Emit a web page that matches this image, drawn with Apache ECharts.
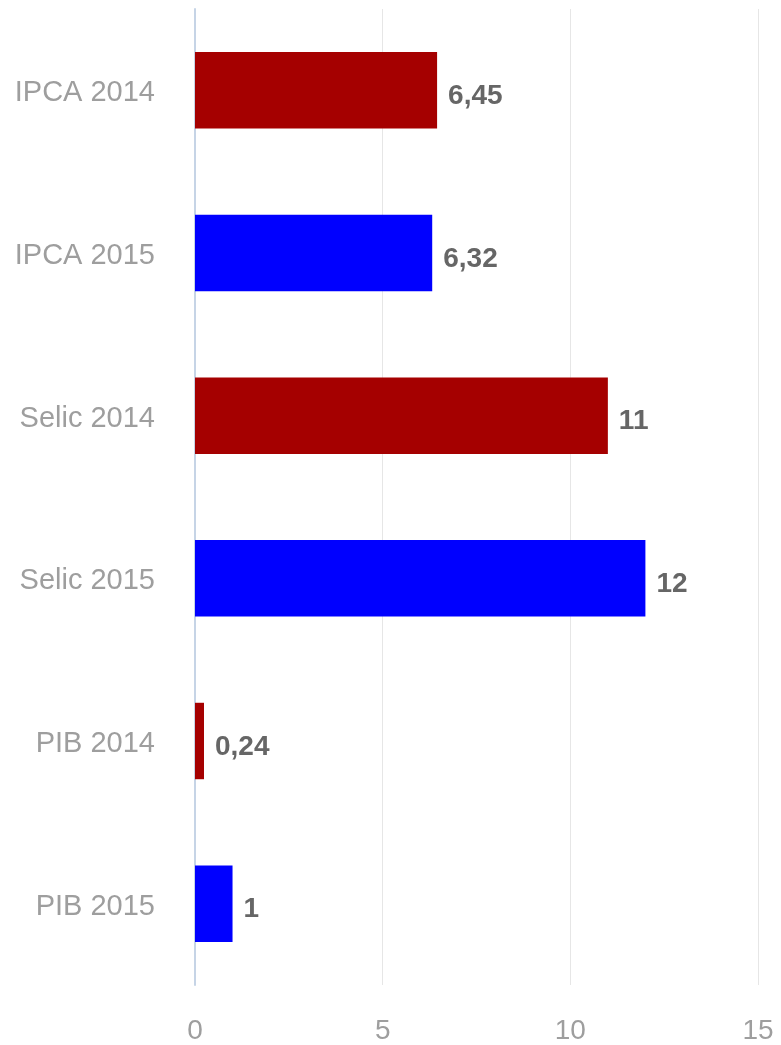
<!DOCTYPE html>
<html>
<head>
<meta charset="utf-8">
<script src="https://cdn.jsdelivr.net/npm/echarts@6/dist/echarts.min.js"></script>
<style>
  html, body { margin: 0; padding: 0; background: #ffffff; }
  #chart { width: 781px; height: 1045px; }
</style>
</head>
<body>
<div id="chart"></div>
<script>
// Indicator names, top to bottom
const categories = ['IPCA 2014', 'IPCA 2015', 'Selic 2014', 'Selic 2015', 'PIB 2014', 'PIB 2015'];
// Value of each indicator
const values = [6.45, 6.32, 11, 12, 0.24, 1];
// 2014 bars in dark red, 2015 bars in blue
const barColors = ['#a50000', '#0000ff', '#a50000', '#0000ff', '#a50000', '#0000ff'];
// Horizontal axis ticks
const xTicks = [0, 5, 10, 15];

const chart = echarts.init(document.getElementById('chart'), null, { renderer: 'canvas' });

const font = '"Liberation Sans", Arial, sans-serif';

chart.setOption({
  animation: false,
  backgroundColor: '#ffffff',
  grid: { left: 195, right: 23, top: 9, bottom: 60, containLabel: false },
  xAxis: {
    type: 'value',
    min: xTicks[0],
    max: xTicks[xTicks.length - 1],
    interval: xTicks[1] - xTicks[0],
    axisLine: { show: false },
    axisTick: { show: false },
    splitLine: { show: true, lineStyle: { color: '#e6e6e6', width: 1 } },
    axisLabel: {
      color: '#9e9e9e',
      fontSize: 28,
      fontFamily: font,
      margin: 32
    }
  },
  yAxis: {
    type: 'category',
    data: categories,
    inverse: true,
    axisLine: { show: true, lineStyle: { color: '#c6d4e6', width: 2 } },
    axisTick: { show: false },
    axisLabel: {
      color: '#9e9e9e',
      fontSize: 29,
      fontFamily: font,
      margin: 40,
      verticalAlign: 'top',
      lineHeight: 6
    }
  },
  series: [{
    type: 'bar',
    barWidth: '47%',
    data: values.map((v, i) => ({ value: v, itemStyle: { color: barColors[i] } })),
    label: {
      show: true,
      position: 'right',
      distance: 11,
      offset: [0, 6],
      color: '#666666',
      fontSize: 28,
      fontWeight: 'bold',
      fontFamily: font,
      formatter: p => String(p.value).replace('.', ',')
    }
  }]
});
</script>
</body>
</html>
